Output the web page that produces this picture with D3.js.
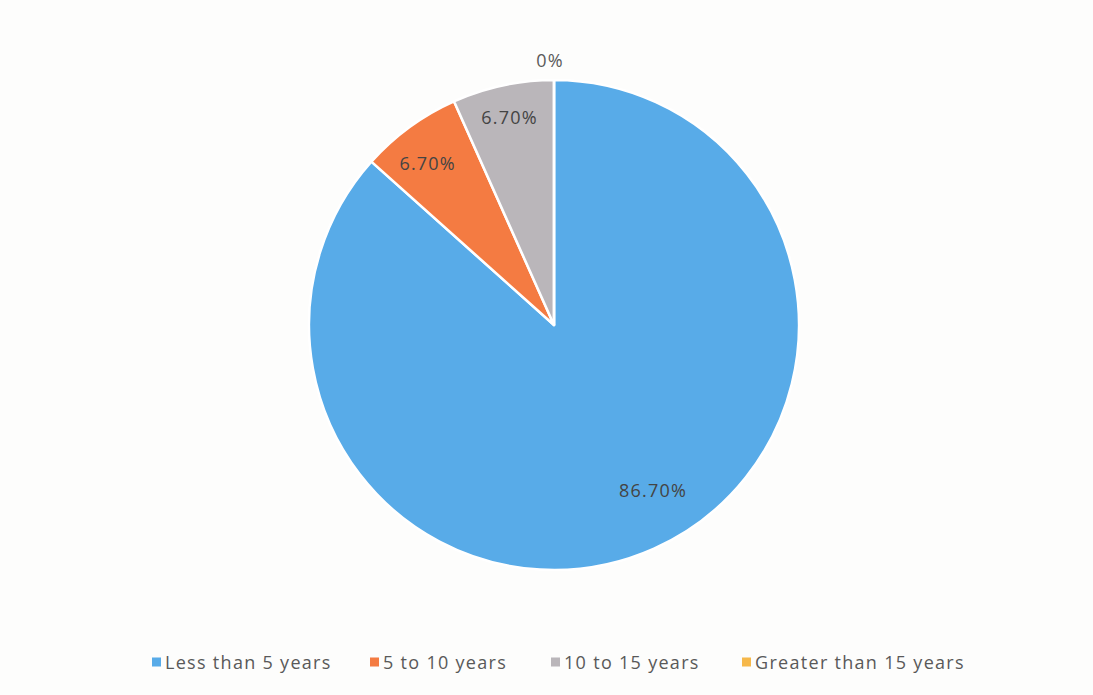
<!DOCTYPE html>
<html>
<head>
<meta charset="utf-8">
<script src="https://cdn.jsdelivr.net/npm/d3@7"></script>
<style>
  html, body { margin: 0; padding: 0; background: #fdfdfc; }
  svg { display: block; }
  text { font-family: "Open Sans", Lato, sans-serif; }
</style>
</head>
<body>
<svg id="chart" width="1093" height="695"></svg>
<script>
// Years of experience distribution
const categories = ["Less than 5 years", "5 to 10 years", "10 to 15 years", "Greater than 15 years"];
const values = [86.7, 6.7, 6.7, 0];
const valueLabels = ["86.70%", "6.70%", "6.70%", "0%"];
const colors = ["#58abe8", "#f47b42", "#bab6ba", "#f6b84a"];

const width = 1093, height = 695;
const cx = 554, cy = 325, radius = 245;

const svg = d3.select("#chart");
const g = svg.append("g").attr("transform", `translate(${cx},${cy})`);

const pie = d3.pie().sort(null).value(d => d.value);
const arcs = pie(categories.map((c, i) => ({ name: c, value: values[i], label: valueLabels[i], color: colors[i] })));

const arc = d3.arc().innerRadius(0).outerRadius(radius);

// label placement: radius as a fraction of the pie radius, plus a small angular nudge (radians)
function labelPos(d) {
  let f, nudge = 0;
  if (d.value === 0) { f = 1.08; }
  else if (d.index === 0) { f = 0.785; nudge = -0.12; }
  else if (d.index === 1) { f = 0.84; nudge = -0.03; }
  else { f = 0.87; }
  const a = (d.startAngle + d.endAngle) / 2 + nudge;
  return [Math.sin(a) * radius * f - (d.value === 0 ? 4 : 0), -Math.cos(a) * radius * f];
}

g.selectAll("path.slice")
  .data(arcs)
  .join("path")
  .attr("class", "slice")
  .attr("d", arc)
  .attr("fill", d => d.data.color)
  .attr("stroke", "#ffffff")
  .attr("stroke-width", 2.5)
  .attr("stroke-linejoin", "round");

g.selectAll("text.lbl")
  .data(arcs)
  .join("text")
  .attr("class", "lbl")
  .attr("transform", d => `translate(${labelPos(d)})`)
  .attr("text-anchor", "middle")
  .attr("dominant-baseline", "central")
  .attr("font-size", 18)
  .attr("letter-spacing", 1.2)
  .attr("fill", d => d.value === 0 ? "#5a5a5a" : "#444444")
  .text(d => d.data.label);

// Legend
const legendX = [152, 370, 551, 742];
const legend = svg.append("g").attr("transform", "translate(0,662)");
const items = legend.selectAll("g.item")
  .data(categories)
  .join("g")
  .attr("class", "item")
  .attr("transform", (d, i) => `translate(${legendX[i]},0)`);
items.append("rect")
  .attr("x", 0).attr("y", -4.5)
  .attr("width", 9).attr("height", 9)
  .attr("fill", (d, i) => colors[i]);
items.append("text")
  .attr("x", 13).attr("y", 0)
  .attr("dominant-baseline", "central")
  .attr("font-size", 18)
  .attr("letter-spacing", 1.3)
  .attr("fill", "#595959")
  .text(d => d);
</script>
</body>
</html>
